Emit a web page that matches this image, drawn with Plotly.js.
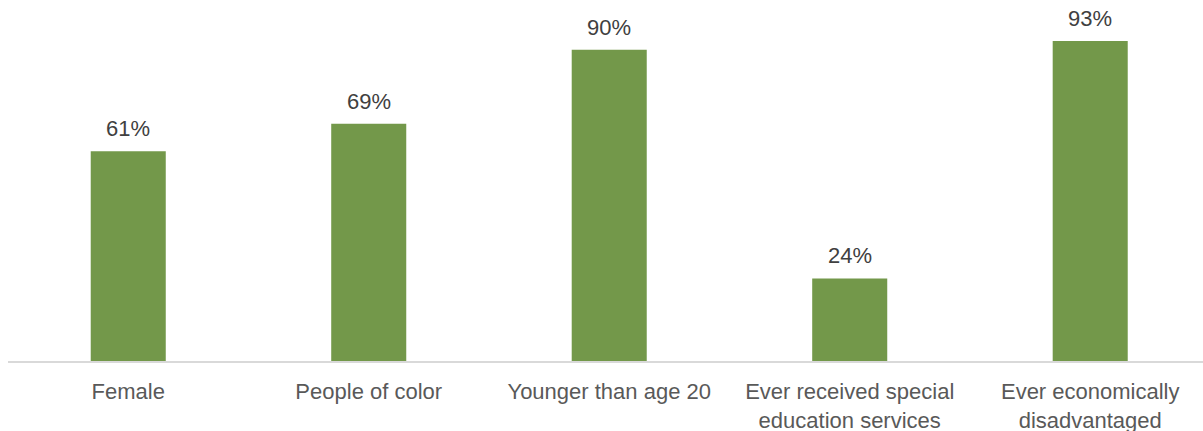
<!DOCTYPE html>
<html>
<head>
<meta charset="utf-8">
<script src="https://cdn.plot.ly/plotly-3.0.1.min.js"></script>
<style>html,body{margin:0;padding:0;background:#fff;}#chart{width:1203px;height:431px;}</style>
</head>
<body>
<div id="chart"></div>
<script>
const categories = ["Female", "People of color", "Younger than age 20", "Ever received special education services", "Ever economically disadvantaged"];
const tickLabels = ["Female", "People of color", "Younger than age 20", "Ever received special<br>education services", "Ever economically<br>disadvantaged"];
const values = [0.61, 0.69, 0.905, 0.24, 0.93];
const valueLabels = ["61%", "69%", "90%", "24%", "93%"];

const FONT = "Liberation Sans, Arial, sans-serif";

const trace = {
  type: "bar",
  x: categories,
  y: values,
  marker: {color: "#73984A"},
  hoverinfo: "none"
};

const annotations = categories.map((c, i) => ({
  x: c, y: values[i], xref: "x", yref: "y",
  text: valueLabels[i], showarrow: false,
  yanchor: "bottom", yshift: 8,
  font: {family: FONT, size: 22, color: "#404040"}
}));

const layout = {
  width: 1203, height: 431,
  margin: {l: 8, r: 0, t: 16.5, b: 69.5, pad: 0},
  paper_bgcolor: "#fff", plot_bgcolor: "#fff",
  bargap: 0.688,
  showlegend: false,
  annotations: annotations,
  xaxis: {
    type: "category",
    range: [-0.5, 4.469],
    tickvals: categories,
    ticktext: tickLabels,
    showline: true, linecolor: "#d9d9d9", linewidth: 1.5,
    ticks: "", showgrid: false, zeroline: false,
    ticklabelstandoff: 10,
    tickfont: {family: FONT, size: 22, color: "#595959"}
  },
  yaxis: {
    range: [0, 1.0], visible: false, showgrid: false, zeroline: false
  }
};

Plotly.newPlot("chart", [trace], layout, {staticPlot: true, displayModeBar: false});
</script>
</body>
</html>
